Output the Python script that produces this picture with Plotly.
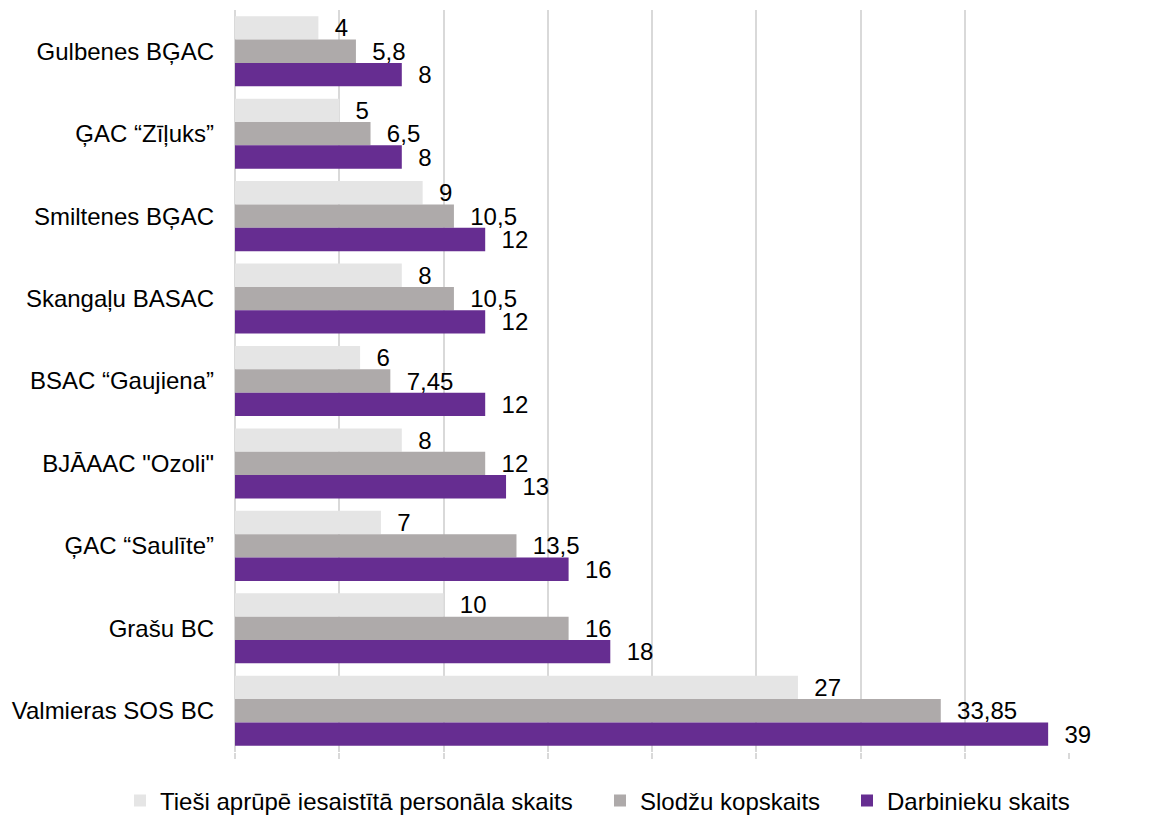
import plotly.graph_objects as go

categories = ["Gulbenes BĢAC", "ĢAC “Zīļuks”", "Smiltenes BĢAC", "Skangaļu BASAC",
              "BSAC “Gaujiena”", "BJĀAAC \"Ozoli\"", "ĢAC “Saulīte”", "Grašu BC",
              "Valmieras SOS BC"]
series_names = ["Tieši aprūpē iesaistītā personāla skaits", "Slodžu kopskaits", "Darbinieku skaits"]
direct_care = [4, 5, 9, 8, 6, 8, 7, 10, 27]
workload = [5.8, 6.5, 10.5, 10.5, 7.45, 12, 13.5, 16, 33.85]
employees = [8, 8, 12, 12, 12, 13, 16, 18, 39]
colors = ["#e5e5e5", "#aeaaaa", "#662d91"]

FONT = "Liberation Sans, Arial"
W, H = 1158, 808
legend_ids = ["legend", "legend2", "legend3"]
legend_left_px = [112, 592, 839]

def fmt(v):
    return "\u00a0\u00a0" + f"{v:g}".replace(".", ",")

fig = go.Figure()
for name, vals, col, lid in zip(series_names, [direct_care, workload, employees], colors, legend_ids):
    fig.add_trace(go.Bar(
        y=categories, x=vals, name=name, orientation="h",
        marker=dict(color=col, line=dict(width=0)),
        text=[fmt(v) for v in vals], textposition="outside",
        constraintext="none",
        textfont=dict(family=FONT, size=24, color="#000000"),
        cliponaxis=False, legend=lid,
    ))

legend_common = dict(orientation="h", xref="container", xanchor="left",
                     yref="paper", y=-0.066, yanchor="middle",
                     font=dict(family=FONT, size=24, color="#000000"),
                     bgcolor="rgba(0,0,0,0)")
layout_legends = {}
for lid, lx in zip(legend_ids, legend_left_px):
    layout_legends[lid] = dict(legend_common, x=lx / W)

fig.update_layout(
    width=W, height=H,
    barmode="group", bargap=0.15, bargroupgap=0,
    plot_bgcolor="white", paper_bgcolor="white",
    margin=dict(l=227, r=97, t=2, b=64, autoexpand=False),
    font=dict(family=FONT, size=24, color="#000000"),
    showlegend=True,
    uniformtext=dict(mode=False),
    **layout_legends,
)
fig.update_xaxes(range=[0, 40], dtick=5, showticklabels=False, showgrid=True,
                 gridcolor="#d9d9d9", gridwidth=1.5, zeroline=True, zerolinecolor="#d9d9d9",
                 zerolinewidth=1.5, ticks="outside", ticklen=6, tickcolor="#d9d9d9",
                 tickwidth=1.5, showline=False, automargin=False)
fig.update_yaxes(autorange="reversed", showgrid=False, ticks="", ticklabelstandoff=20,
                 tickfont=dict(size=24, color="#000000"), showline=False, automargin=False)

fig.write_html("out.html")
